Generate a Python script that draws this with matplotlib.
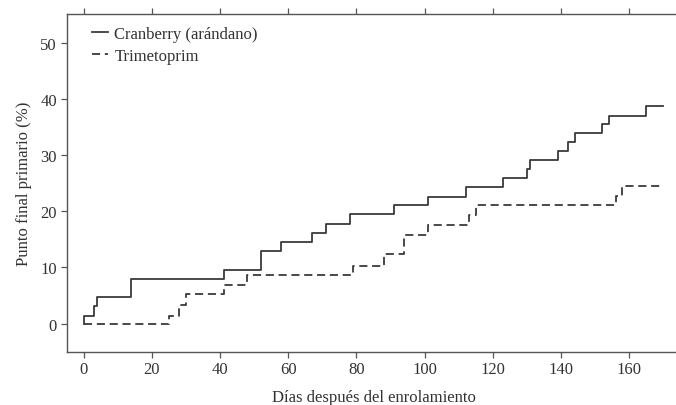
#!/usr/bin/env python3
"""Kaplan-Meier style step curves: cranberry vs trimetoprim."""

import matplotlib

matplotlib.use("Agg")

import matplotlib.pyplot as plt

CRANBERRY_DAYS = [0, 0, 3, 4, 14, 41, 52, 58, 67, 71, 78, 91, 101, 112, 123,
                  130, 131, 139, 142, 144, 152, 154, 165, 170]
CRANBERRY_PCT = [0, 1.4, 3.1, 4.8, 7.9, 9.6, 12.85, 14.55, 16.2, 17.75, 19.45,
                 21.1, 22.6, 24.3, 26.0, 27.5, 29.1, 30.7, 32.3, 33.9, 35.6,
                 37.0, 38.75, 38.75]

TRIMETOPRIM_DAYS = [0, 25, 28, 30, 41, 48, 79, 88, 94, 101, 113, 115, 156, 158, 170]
TRIMETOPRIM_PCT = [0, 1.4, 3.3, 5.2, 6.9, 8.6, 10.3, 12.4, 15.8, 17.5, 19.3,
                   21.1, 22.7, 24.5, 24.5]

X_TICKS = [0, 20, 40, 60, 80, 100, 120, 140, 160]
Y_TICKS = [0, 10, 20, 30, 40, 50]

LINE_COLOR = "#3a3a3a"
TEXT_COLOR = "#333333"
SPINE_COLOR = "#555555"

plt.rcParams["font.family"] = ["Liberation Serif", "DejaVu Serif"]

fig = plt.figure(figsize=(6.76, 4.06), dpi=100)
ax = fig.add_axes([0.0987, 0.1313, 0.9077, 0.8317])

ax.step(CRANBERRY_DAYS, CRANBERRY_PCT, where="post", color=LINE_COLOR,
        linewidth=1.3, label="Cranberry (arándano)")
ax.step(TRIMETOPRIM_DAYS, TRIMETOPRIM_PCT, where="post", color=LINE_COLOR,
        linewidth=1.3, linestyle=(0, (4.5, 2.6)), label="Trimetoprim")

ax.set_xlim(-5, 175)
ax.set_ylim(-5, 55.1)
ax.set_xticks(X_TICKS)
ax.set_yticks(Y_TICKS)

# original is cropped at the right edge, so no right spine shows
ax.spines["right"].set_visible(False)
for side in ("left", "bottom", "top"):
    ax.spines[side].set_color(SPINE_COLOR)
    ax.spines[side].set_linewidth(1.0)
ax.tick_params(axis="both", direction="out", length=4, width=0.9,
               color=SPINE_COLOR, labelsize=12, labelcolor=TEXT_COLOR, pad=3)
ax.tick_params(axis="x", top=True, labeltop=False)

ax.set_xlabel("Días después del enrolamiento", fontsize=12, color=TEXT_COLOR,
              labelpad=8)
ax.set_ylabel("Punto final primario (%)", fontsize=12, color=TEXT_COLOR,
              labelpad=6)

ax.legend(loc="upper left", bbox_to_anchor=(0.03, 0.985), frameon=False,
          fontsize=12, handlelength=0.95, handletextpad=0.4, labelspacing=0.35,
          borderaxespad=0.0, labelcolor=TEXT_COLOR)

fig.savefig("out.png", dpi=100)
plt.close(fig)
